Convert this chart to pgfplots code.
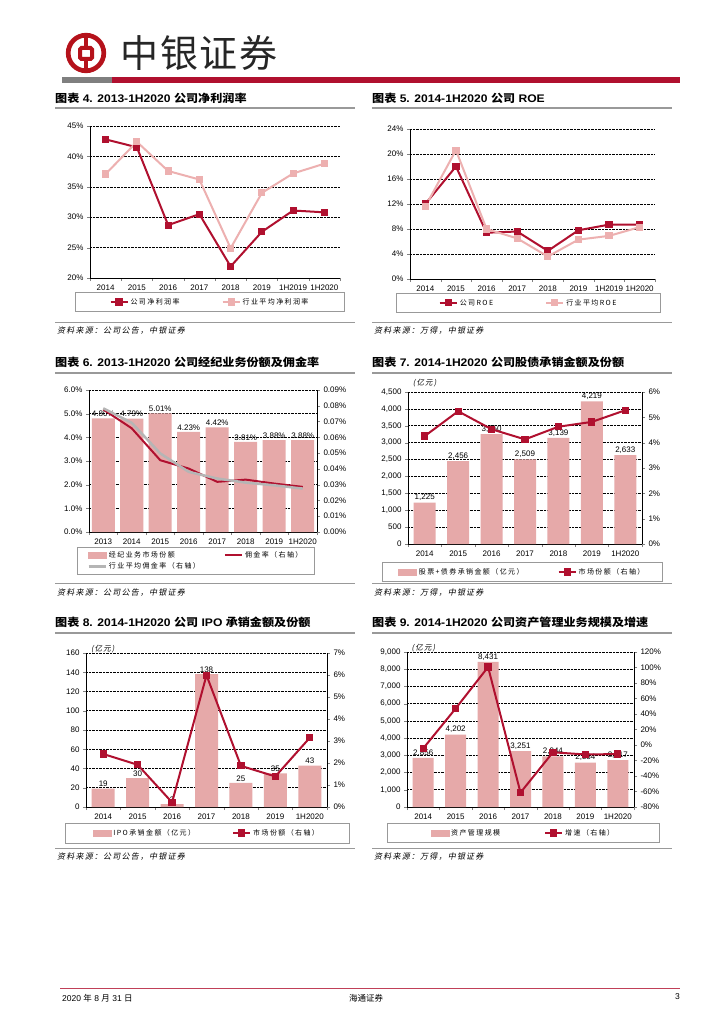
\documentclass[border=0pt]{standalone}
\usepackage{fontspec}
\setmainfont{Liberation Sans}
\newfontfamily\cjk{Noto Sans CJK SC}
\newfontfamily\cjksp{Noto Sans CJK SC}[LetterSpace=20]
\newfontfamily\cjkit{Noto Sans CJK SC}[FakeSlant=0.2,LetterSpace=15]
\usepackage{pgfplots}
\pgfplotsset{compat=1.18}

\definecolor{dred}{HTML}{B0102F}
\definecolor{lpink}{HTML}{EDB0B0}
\definecolor{barpink}{HTML}{E6A9A9}
\definecolor{lgray}{HTML}{B5B5B5}
\definecolor{hdrgray}{HTML}{7F7F7F}
\definecolor{logored}{HTML}{B5121B}

\newcommand{\tkf}{\fontsize{8}{9.5}\selectfont}
\newcommand{\lgf}{\cjksp\fontsize{7}{8}\selectfont}

\pgfplotsset{
  cbase/.style={
    scale only axis, clip=false,
    /pgf/number format/assume math mode=true,
    tick label style={font=\tkf},
    tick align=outside, major tick length=3pt, minor tick length=3pt,
    axis line style={line width=0.6pt},
    scaled y ticks=false,
    xmin=-0.5,
    legend style={draw=gray!80, line width=0.5pt, font=\lgf, anchor=north,
      legend columns=2, inner ysep=4pt},
    legend cell align=left,
  },
  lsep/.style 2 args={legend style={inner xsep=#1,
      /tikz/every even column/.append style={column sep=#2}}},
  cmain/.style={cbase, axis x line*=bottom, axis y line*=left,
    ymajorgrids, grid style={densely dotted, black, line width=0.6pt},
    major x tick style={draw=none},
  },
  crax/.style={cbase, axis x line=none, axis y line*=right},
  lineA/.style={dred, line width=2pt, mark=square*, mark size=2.6pt},
  lineB/.style={lpink, line width=2pt, mark=square*, mark size=2.6pt},
  cbars/.style={ybar, bar width=#1, fill=barpink, draw=none},
  clab/.style={nodes near coords style={font=\tkf, black, inner sep=1.5pt}},
  barleg/.style={legend image code/.code={\fill[barpink] (0pt,-3pt) rectangle (18pt,3pt);}},
}

\begin{document}
\begin{tikzpicture}
\useasboundingbox (0,0) rectangle (724pt,-1024pt);
\fill[white] (0,0) rectangle (724pt,-1024pt);

% header
\draw[logored, line width=4.7pt] (86pt,-53pt) circle (17.8pt);
\draw[logored, line width=4pt, rounded corners=1.5pt] (80pt,-48pt) rectangle (92pt,-59pt);
\draw[logored, line width=4pt] (86pt,-35pt) -- (86pt,-48pt) (86pt,-59pt) -- (86pt,-71pt);
\node[anchor=west, inner sep=0pt, text=black!85, font=\cjk\fontsize{38}{40}\selectfont\addfontfeature{LetterSpace=5}] at (120pt,-53pt) {中银证券};
\fill[hdrgray] (62pt,-77pt) rectangle (112pt,-83pt);
\fill[dred] (112pt,-77pt) rectangle (680pt,-83pt);

% section titles
\foreach \x/\y/\t in {55/98/{{\cjk 图表} 4. 2013-1H2020 {\cjk 公司净利润率}},
                      372/98/{{\cjk 图表} 5. 2014-1H2020 {\cjk 公司} ROE},
                      55/362/{{\cjk 图表} 6. 2013-1H2020 {\cjk 公司经纪业务份额及佣金率}},
                      372/362/{{\cjk 图表} 7. 2014-1H2020 {\cjk 公司股债承销金额及份额}},
                      55/622/{{\cjk 图表} 8. 2014-1H2020 {\cjk 公司} IPO {\cjk 承销金额及份额}},
                      372/622/{{\cjk 图表} 9. 2014-1H2020 {\cjk 公司资产管理业务规模及增速}}}
  \node[anchor=west, inner sep=0pt, font=\bfseries\fontsize{11}{13}\selectfont] at (\x pt,-\y pt) {\scalebox{1.1}[1]{\t}};
\foreach \x/\y in {55/108,372/108,55/373,372/373,55/633,372/633}
  \draw[gray!80, line width=1.5pt] (\x pt,-\y pt) -- ++(300pt,0);
\foreach \x/\y in {55/322,372/322,55/583,372/583,55/848,372/848}
  \draw[gray!80, line width=0.8pt] (\x pt,-\y pt) -- ++(300pt,0);
\foreach \x/\y/\t in {57/331/公司公告，中银证券, 374/331/万得，中银证券,
                      57/593/公司公告，中银证券, 374/593/万得，中银证券,
                      57/857/公司公告，中银证券, 374/857/万得，中银证券}
  \node[anchor=west, inner sep=0pt, font=\cjkit\fontsize{8}{9}\selectfont] at (\x pt,-\y pt) {资料来源：\t};

% footer
\draw[dred!80, line width=1pt] (60pt,-988pt) -- (680pt,-988pt);
\node[anchor=west, inner sep=0pt, font=\fontsize{8.5}{10}\selectfont] at (62pt,-998pt) {2020 {\cjk 年} 8 {\cjk 月} 31 {\cjk 日}};
\node[inner sep=0pt, font=\cjk\fontsize{8.5}{10}\selectfont] at (366pt,-998pt) {海通证券};
\node[anchor=east, inner sep=0pt, font=\fontsize{8.5}{10}\selectfont] at (680pt,-997pt) {3};

% chart 4
\begin{axis}[cmain, at={(90pt,-278pt)}, anchor=south west, width=250pt, height=152pt,
  xmax=7.5, xtick={0,...,7}, xticklabels={2014,2015,2016,2017,2018,2019,1H2019,1H2020},
  minor xtick={-0.5,0.5,...,7.5},
  ymin=20, ymax=45, ytick={20,25,...,45}, yticklabel={\pgfmathprintnumber{\tick}\%},
  legend style={at={(0.48,-0.092)}}, lsep={34pt}{40pt}]
\addplot[lineA] coordinates {(0,42.8) (1,41.5) (2,28.7) (3,30.5) (4,21.9) (5,27.6) (6,31.1) (7,30.8)};
\addlegendentry{公司净利润率}
\addplot[lineB] coordinates {(0,37.1) (1,42.4) (2,37.6) (3,36.2) (4,24.9) (5,34.0) (6,37.2) (7,38.8)};
\addlegendentry{行业平均净利润率}
\end{axis}

% chart 5
\begin{axis}[cmain, at={(410pt,-279pt)}, anchor=south west, width=245pt, height=150pt,
  xmax=7.5, xtick={0,...,7}, xticklabels={2014,2015,2016,2017,2018,2019,1H2019,1H2020},
  minor xtick={-0.5,0.5,...,7.5},
  ymin=0, ymax=24, ytick={0,4,...,24}, yticklabel={\pgfmathprintnumber{\tick}\%},
  legend style={at={(0.484,-0.093)}}, lsep={42pt}{50pt}]
\addplot[lineA] coordinates {(0,12.0) (1,18.0) (2,7.4) (3,7.6) (4,4.5) (5,7.8) (6,8.7) (7,8.7)};
\addlegendentry{公司ROE}
\addplot[lineB] coordinates {(0,11.6) (1,20.6) (2,8.0) (3,6.5) (4,3.6) (5,6.3) (6,6.9) (7,8.3)};
\addlegendentry{行业平均ROE}
\end{axis}

% chart 6
\begin{axis}[cmain, clab, at={(89pt,-532pt)}, anchor=south west, width=228pt, height=142pt,
  xmax=7.5, xtick={0,...,7}, xticklabels={2013,2014,2015,2016,2017,2018,2019,1H2020},
  minor xtick={-0.5,0.5,...,7.5},
  ymin=0, ymax=6, ytick={0,...,6}, yticklabel={\pgfmathprintnumber[fixed,precision=1,zerofill]{\tick}\%},
  nodes near coords={\pgfmathprintnumber[fixed,precision=2,zerofill]{\pgfplotspointmeta}\%}]
\addplot[cbars=23pt] coordinates {(0,4.80) (1,4.79) (2,5.01) (3,4.23) (4,4.42) (5,3.81) (6,3.88) (7,3.88)};
\end{axis}
\begin{axis}[crax, at={(89pt,-532pt)}, anchor=south west, width=228pt, height=142pt,
  xmax=7.5, ymin=0, ymax=0.09,
  ytick={0,0.01,0.02,0.03,0.04,0.05,0.06,0.07,0.08,0.09},
  yticklabel={\pgfmathprintnumber[fixed,precision=2,zerofill]{\tick}\%},
  legend style={at={(0.469,-0.106)}, inner ysep=2pt}, lsep={10pt}{22pt}]
\addlegendimage{barleg}
\addlegendentry{经纪业务市场份额}
\addplot[dred, line width=2pt] coordinates {(0,0.0777) (1,0.0657) (2,0.0455) (3,0.0402) (4,0.0318) (5,0.0332) (6,0.0307) (7,0.0286)};
\addlegendentry{佣金率（右轴）}
\addplot[lgray, line width=2.5pt] coordinates {(0,0.0784) (1,0.0692) (2,0.0498) (3,0.0381) (4,0.0339) (5,0.0313) (6,0.0296) (7,0.0275)};
\addlegendentry{行业平均佣金率（右轴）}
\end{axis}

% chart 7
\begin{axis}[cmain, clab, at={(408pt,-544pt)}, anchor=south west, width=234pt, height=152pt,
  xmax=6.5, xtick={0,...,6}, xticklabels={2014,2015,2016,2017,2018,2019,1H2020},
  minor xtick={-0.5,0.5,...,6.5},
  ymin=0, ymax=4500, ytick={0,500,...,4500},
  nodes near coords={\pgfmathprintnumber[fixed,precision=0]{\pgfplotspointmeta}}]
\addplot[cbars=22pt] coordinates {(0,1225) (1,2456) (2,3250) (3,2509) (4,3139) (5,4219) (6,2633)};
\node[anchor=south west, inner sep=0pt, font=\cjkit\fontsize{7.5}{9}\selectfont] at (rel axis cs:0.02,1.03) {(亿元)};
\end{axis}
\begin{axis}[crax, at={(408pt,-544pt)}, anchor=south west, width=234pt, height=152pt,
  xmax=6.5, ymin=0, ymax=6, ytick={0,...,6}, yticklabel={\pgfmathprintnumber{\tick}\%},
  legend style={at={(0.489,-0.118)}}, lsep={16pt}{32pt}]
\addlegendimage{barleg}
\addlegendentry{股票+债券承销金额（亿元）}
\addplot[lineA] coordinates {(0,4.26) (1,5.24) (2,4.53) (3,4.13) (4,4.63) (5,4.82) (6,5.28)};
\addlegendentry{市场份额（右轴）}
\end{axis}

% chart 8
\begin{axis}[cmain, clab, at={(86pt,-807pt)}, anchor=south west, width=241pt, height=154pt,
  xmax=6.5, xtick={0,...,6}, xticklabels={2014,2015,2016,2017,2018,2019,1H2020},
  minor xtick={-0.5,0.5,...,6.5},
  ymin=0, ymax=160, ytick={0,20,...,160},
  nodes near coords={\pgfmathprintnumber[fixed,precision=0]{\pgfplotspointmeta}}]
\addplot[cbars=23pt] coordinates {(0,19) (1,30) (2,3) (3,138) (4,25) (5,35) (6,43)};
\node[anchor=south west, inner sep=0pt, font=\cjkit\fontsize{7.5}{9}\selectfont] at (rel axis cs:0.02,1.0) {(亿元)};
\end{axis}
\begin{axis}[crax, at={(86pt,-807pt)}, anchor=south west, width=241pt, height=154pt,
  xmax=6.5, ymin=0, ymax=7, ytick={0,...,7}, yticklabel={\pgfmathprintnumber{\tick}\%},
  legend style={at={(0.502,-0.104)}}, lsep={28pt}{35pt}]
\addlegendimage{barleg}
\addlegendentry{IPO承销金额（亿元）}
\addplot[lineA] coordinates {(0,2.41) (1,1.92) (2,0.21) (3,5.99) (4,1.87) (5,1.39) (6,3.15)};
\addlegendentry{市场份额（右轴）}
\end{axis}

% chart 9
\begin{axis}[cmain, clab, at={(407pt,-807pt)}, anchor=south west, width=227pt, height=155pt,
  xmax=6.5, xtick={0,...,6}, xticklabels={2014,2015,2016,2017,2018,2019,1H2020},
  minor xtick={-0.5,0.5,...,6.5},
  ymin=0, ymax=9000, ytick={0,1000,...,9000},
  nodes near coords={\pgfmathprintnumber[fixed,precision=0]{\pgfplotspointmeta}}]
\addplot[cbars=21pt] coordinates {(0,2856) (1,4202) (2,8431) (3,3251) (4,2944) (5,2584) (6,2717)};
\node[anchor=south west, inner sep=0pt, font=\cjkit\fontsize{7.5}{9}\selectfont] at (rel axis cs:0.02,1.0) {(亿元)};
\end{axis}
\begin{axis}[crax, at={(407pt,-807pt)}, anchor=south west, width=227pt, height=155pt,
  xmax=6.5, ymin=-80, ymax=120, ytick={-80,-60,...,120}, yticklabel={\pgfmathprintnumber{\tick}\%},
  legend style={at={(0.513,-0.103)}}, lsep={43pt}{42pt}]
\addlegendimage{barleg}
\addlegendentry{资产管理规模}
\addplot[lineA] coordinates {(0,-4.4) (1,47.1) (2,100.6) (3,-61.4) (4,-9.4) (5,-12.2) (6,-11.7)};
\addlegendentry{增速（右轴）}
\end{axis}
\end{tikzpicture}
\end{document}
